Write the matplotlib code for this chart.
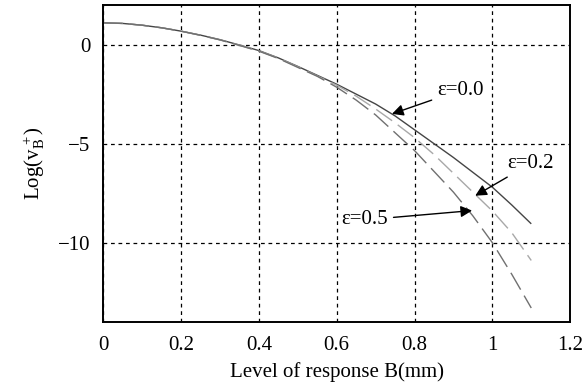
import matplotlib
matplotlib.use('Agg')
import matplotlib.pyplot as plt
import numpy as np

plt.rcParams['font.family'] = ['Liberation Serif', 'DejaVu Serif']
plt.rcParams['mathtext.fontset'] = 'custom'
plt.rcParams['mathtext.rm'] = 'Liberation Serif'
plt.rcParams['mathtext.it'] = 'Liberation Serif:italic'

# level of response B (mm)
B = [0.0, 0.05, 0.1, 0.15, 0.2, 0.25, 0.3, 0.35, 0.4, 0.45, 0.5, 0.55,
     0.6, 0.65, 0.7, 0.75, 0.8, 0.85, 0.9, 0.95, 1.0, 1.05, 1.1]

# Log(v_B+) for each epsilon
eps00 = [1.1, 1.07, 0.98, 0.85, 0.68, 0.48, 0.25, -0.02, -0.3, -0.67, -1.1, -1.55,
         -2.0, -2.5, -3.0, -3.6, -4.3, -5.0, -5.7, -6.45, -7.2, -8.1, -9.05]
eps02 = [1.1, 1.07, 0.98, 0.85, 0.68, 0.47, 0.24, -0.03, -0.32, -0.68, -1.12, -1.58,
         -2.05, -2.6, -3.25, -3.95, -4.7, -5.55, -6.5, -7.45, -8.4, -9.5, -10.9]
eps05 = [1.1, 1.07, 0.98, 0.85, 0.68, 0.47, 0.24, -0.04, -0.33, -0.7, -1.15, -1.6,
         -2.15, -2.8, -3.55, -4.45, -5.35, -6.4, -7.45, -8.65, -10.0, -11.6, -13.3]

xticks = [0, 0.2, 0.4, 0.6, 0.8, 1.0, 1.2]
xticklabels = ['0', '0.2', '0.4', '0.6', '0.8', '1', '1.2']
yticks = [-10, -5, 0]

fs = 15

fig = plt.figure(figsize=(5.83, 3.85), dpi=100)
ax = fig.add_axes([0.177, 0.164, 0.801, 0.823])

ax.plot(B, eps00, color='#454545', lw=1.0, solid_capstyle='butt')
ax.plot(B, eps02, color='#a8a8a8', lw=1.0, dashes=(14, 5))
ax.plot(B, eps05, color='#707070', lw=1.0, dashes=(14, 5))

ax.set_xlim(0, 1.2)
ax.set_ylim(-14, 2)
ax.set_xticks(xticks)
ax.set_xticklabels(xticklabels)
ax.set_yticks(yticks)
ax.set_yticklabels(['\u221210', '\u22125', '0'])
ax.tick_params(length=0, labelsize=fs)
ax.tick_params(axis='x', pad=10)
ax.tick_params(axis='y', pad=9)
ax.grid(True, color='k', ls=(0, (3, 3)), lw=0.9)
for s in ax.spines.values():
    s.set_linewidth(1.4)

ax.set_xlabel('Level of response B(mm)', fontsize=fs, labelpad=5)
ax.set_ylabel(r'Log$(\mathrm{v}_{\mathrm{B}}^{\,+})$', fontsize=fs, labelpad=8)

arrow = dict(arrowstyle='-|>', color='k', lw=1.0, mutation_scale=17, shrinkA=2, shrinkB=0)
ax.annotate('\u03b5=0.0', xy=(0.742, -3.5), xytext=(0.858, -2.3),
            fontsize=fs, ha='left', va='center', arrowprops=arrow)
ax.annotate('\u03b5=0.2', xy=(0.956, -7.63), xytext=(1.039, -6.0),
            fontsize=fs, ha='left', va='center', arrowprops=arrow)
ax.annotate('\u03b5=0.5', xy=(0.948, -8.38), xytext=(0.612, -8.85),
            fontsize=fs, ha='left', va='center', arrowprops=arrow)

fig.savefig('out.png', dpi=100)
